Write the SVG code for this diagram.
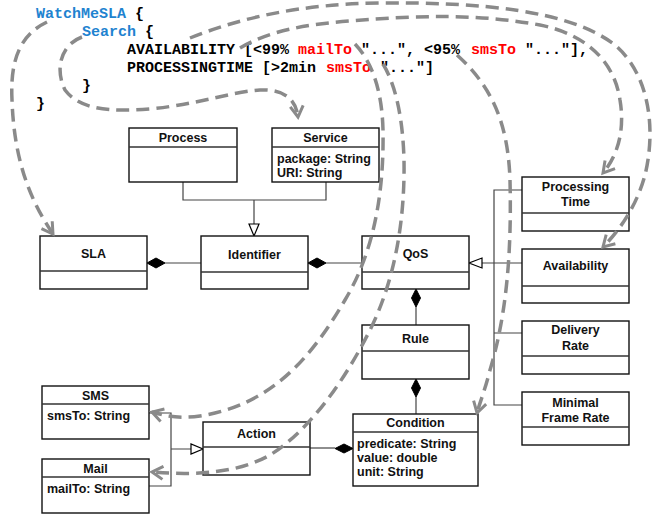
<svg xmlns="http://www.w3.org/2000/svg" width="658" height="516" viewBox="0 0 658 516">
<style>
.code{font-family:"Liberation Mono","Courier New",monospace;font-size:15px;font-weight:bold;fill:#000}
.kw{fill:#1f83d0}
.red{fill:#f00}
.box{fill:#fff;stroke:#111;stroke-width:1.4}
.div{stroke:#333;stroke-width:1.3}
.lbl{font-family:"Liberation Sans",Arial,sans-serif;font-size:12.5px;font-weight:bold;fill:#111;text-anchor:middle}
.att{font-family:"Liberation Sans",Arial,sans-serif;font-size:12.5px;font-weight:bold;fill:#111}
.ln{fill:none;stroke:#444;stroke-width:1.2}
.dia{fill:#000;stroke:#000;stroke-width:1}
.tri{fill:#fff;stroke:#000;stroke-width:1.2}
.dash{fill:none;stroke:#8a8a8a;stroke-width:3.5;stroke-dasharray:13 7;marker-end:url(#arr)}
</style>
<defs>
<marker id="arr" markerUnits="userSpaceOnUse" markerWidth="18" markerHeight="18" viewBox="-14 -9 18 18" refX="0" refY="0" orient="auto">
<path d="M-11,-6.5 L0,0 L-11,6.5" fill="none" stroke="#8a8a8a" stroke-width="3"/>
</marker>
</defs>
<rect width="658" height="516" fill="#fff"/>

<g id="code">
<text class="code" x="36" y="18"><tspan class="kw">WatchMeSLA</tspan> {</text>
<text class="code" x="82" y="36"><tspan class="kw">Search</tspan> {</text>
<text class="code" x="127" y="54" xml:space="preserve">AVAILABILITY [&lt;99% </text>
<text class="code red" x="298" y="54">mailTo</text>
<text class="code" x="352" y="54" xml:space="preserve"> "...", &lt;95% </text>
<text class="code red" x="471" y="54">smsTo</text>
<text class="code" x="516" y="54" xml:space="preserve"> "..."],</text>
<text class="code" x="127" y="72" xml:space="preserve">PROCESSINGTIME [&gt;2min </text>
<text class="code red" x="326" y="72">smsTo</text>
<text class="code" x="371" y="72" xml:space="preserve"> "..."]</text>
<text class="code" x="82" y="90">}</text>
<text class="code" x="36" y="108">}</text>
</g>

<g id="connectors">
<path class="ln" d="M183,182 V200 H326 V182 M254,200 V224"/>
<path class="tri" d="M249,224 L259,224 L254,236 Z"/>
<path class="ln" d="M165,263 H201"/>
<path class="dia" d="M147,263 L156,258 L165,263 L156,268 Z"/>
<path class="ln" d="M326,263 H362"/>
<path class="dia" d="M308,263 L317,258 L326,263 L317,268 Z"/>
<path class="ln" d="M522,190 H494 V405 H522 M522,333 H494 M522,263 H482"/>
<path class="tri" d="M482,258 L482,268 L469,263 Z"/>
<path class="ln" d="M416,307 V325"/>
<path class="dia" d="M416,289 L420.5,298 L416,307 L411.5,298 Z"/>
<path class="ln" d="M416,397 V414"/>
<path class="dia" d="M416,379 L420.5,388 L416,397 L411.5,388 Z"/>
<path class="ln" d="M310,448 H335"/>
<path class="dia" d="M335,448.5 L344,444 L353,448.5 L344,453 Z"/>
<path class="ln" d="M149,413 H171 V486 H149 M171,449 H191"/>
<path class="tri" d="M191,444 L191,454 L203,449 Z"/>
</g>

<g id="Process"><rect class="box" x="129" y="128" width="108" height="54"/><line class="div" x1="129" y1="147" x2="237" y2="147"/><text class="lbl" x="183" y="142">Process</text></g>
<g id="Service"><rect class="box" x="272" y="128" width="107" height="54"/><line class="div" x1="272" y1="147" x2="379" y2="147"/><text class="lbl" x="325.5" y="142">Service</text><text class="att" x="277" y="162.5">package: String</text><text class="att" x="277" y="176.5">URI: String</text></g>
<g id="SLA"><rect class="box" x="40" y="236" width="107" height="53"/><line class="div" x1="40" y1="271" x2="147" y2="271"/><text class="lbl" x="93.5" y="258">SLA</text></g>
<g id="Identifier"><rect class="box" x="201" y="236" width="107" height="53"/><line class="div" x1="201" y1="272" x2="308" y2="272"/><text class="lbl" x="254.5" y="258.5">Identifier</text></g>
<g id="QoS"><rect class="box" x="362" y="236" width="107" height="53"/><line class="div" x1="362" y1="272" x2="469" y2="272"/><text class="lbl" x="415.5" y="257.5">QoS</text></g>
<g id="ProcessingTime"><rect class="box" x="522" y="177" width="107" height="54"/><line class="div" x1="522" y1="213" x2="629" y2="213"/><text class="lbl" x="575.5" y="190.5">Processing</text><text class="lbl" x="575.5" y="206">Time</text></g>
<g id="Availability"><rect class="box" x="522" y="249" width="107" height="54"/><line class="div" x1="522" y1="286" x2="629" y2="286"/><text class="lbl" x="575.5" y="270">Availability</text></g>
<g id="DeliveryRate"><rect class="box" x="522" y="321" width="107" height="53"/><line class="div" x1="522" y1="356" x2="629" y2="356"/><text class="lbl" x="575.5" y="333.5">Delivery</text><text class="lbl" x="575.5" y="349.5">Rate</text></g>
<g id="MinimalFrameRate"><rect class="box" x="522" y="392" width="107" height="53"/><line class="div" x1="522" y1="427" x2="629" y2="427"/><text class="lbl" x="575.5" y="406.5">Minimal</text><text class="lbl" x="575.5" y="421.5">Frame Rate</text></g>
<g id="Rule"><rect class="box" x="362" y="325" width="107" height="54"/><line class="div" x1="362" y1="351" x2="469" y2="351"/><text class="lbl" x="415.5" y="342.5">Rule</text></g>
<g id="Condition"><rect class="box" x="353" y="414" width="125" height="72"/><line class="div" x1="353" y1="432" x2="478" y2="432"/><text class="lbl" x="415.5" y="426.5">Condition</text><text class="att" x="357" y="447.5">predicate: String</text><text class="att" x="357" y="461.5">value: double</text><text class="att" x="357" y="475.5">unit: String</text></g>
<g id="Action"><rect class="box" x="203" y="422" width="107" height="53"/><line class="div" x1="203" y1="447" x2="310" y2="447"/><text class="lbl" x="256.5" y="437.5">Action</text></g>
<g id="SMS"><rect class="box" x="42" y="386" width="107" height="53"/><line class="div" x1="42" y1="404" x2="149" y2="404"/><text class="lbl" x="95.5" y="399.5">SMS</text><text class="att" x="47" y="419.5">smsTo: String</text></g>
<g id="Mail"><rect class="box" x="42" y="459" width="107" height="54"/><line class="div" x1="42" y1="477" x2="149" y2="477"/><text class="lbl" x="95.5" y="472.5">Mail</text><text class="att" x="47" y="492.5">mailTo: String</text></g>

<g id="traces">
<path class="dash" d="M47,22 C20,35 10,60 12,100 C14,160 30,200 53,234"/>
<path class="dash" d="M82,37 C60,45 55,70 65,90 C80,110 110,112 150,109 C200,104 230,92 260,90 C285,89 296,100 298,117"/>
<path class="dash" d="M190,38 C240,18 300,4 380,3 C480,2 570,10 615,45 C650,75 656,130 645,175 C637,205 620,230 603,247"/>
<path class="dash" d="M240,48 C270,30 310,24 350,21 C420,15 480,14 540,25 C590,35 615,65 620,100 C625,130 618,155 603,173"/>
<path class="dash" d="M457,55 C490,85 508,120 510,180 C512,260 505,320 490,370 C485,390 480,402 477,413"/>
<path class="dash" d="M355,44 C372,62 382,90 383,130 C384,190 375,250 345,300 C310,360 270,405 200,416 C180,419 165,416 152,412"/>
<path class="dash" d="M383,64 C396,85 403,120 404,160 C405,220 395,280 370,330 C345,380 310,430 270,455 C240,472 200,476 152,472"/>
</g>
</svg>
